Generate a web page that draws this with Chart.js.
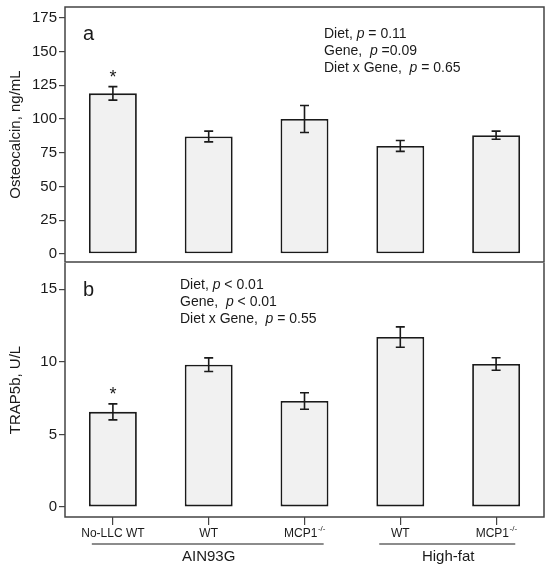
<!DOCTYPE html>
<html>
<head>
<meta charset="utf-8">
<script src="https://cdn.jsdelivr.net/npm/chart.js@4"></script>
<style>
    body { margin: 0; background: #fff; }
    #wrap { position: relative; width: 550px; height: 567px; }
    #boxA { position: absolute; left: 0; top: 0; }
    #boxB { position: absolute; left: 0; top: 262px; }
    canvas { display: block; }
</style>
</head>
<body>
<div id="wrap">
    <div id="boxA"><canvas id="chartA" width="550" height="263"></canvas></div>
    <div id="boxB"><canvas id="chartB" width="550" height="305"></canvas></div>
</div>
<script>
// categories (x), superscripts go after the base name
var categories = ['No-LLC WT', 'WT', 'MCP1', 'WT', 'MCP1'];
var categorySup = ['', '', '-/-', '', '-/-'];

// panel a - osteocalcin ng/mL
var osteoMeans = [119, 87, 100, 80, 88];
var osteoErr = [5, 4, 10, 4, 3];
var osteoStar = [true, false, false, false, false];
var osteoTicks = [0, 25, 50, 75, 100, 125, 150, 175];

// panel b - TRAP5b U/L
var trapMeans = [6.55, 9.8, 7.3, 11.7, 9.85];
var trapErr = [0.55, 0.47, 0.57, 0.7, 0.43];
var trapStar = [true, false, false, false, false];
var trapTicks = [0, 5, 10, 15];

// diet groups under the x axis
var groupLabels = ['AIN93G', 'High-fat'];
var groupFrom = [0, 3];
var groupTo = [2, 4];

var statsA = [
    [['Diet, ', false], ['p', true], [' = 0.11', false]],
    [['Gene,  ', false], ['p', true], [' =0.09', false]],
    [['Diet x Gene,  ', false], ['p', true], [' = 0.65', false]]
];
var statsB = [
    [['Diet, ', false], ['p', true], [' < 0.01', false]],
    [['Gene,  ', false], ['p', true], [' < 0.01', false]],
    [['Diet x Gene,  ', false], ['p', true], [' = 0.55', false]]
];

var FONT = "'Liberation Sans', Arial, sans-serif";
var INK = '#1a1a1a';

function drawRich(ctx, x, y, parts, size) {
    ctx.textBaseline = 'middle';
    ctx.textAlign = 'left';
    for (var i = 0; i < parts.length; i++) {
        ctx.font = (parts[i][1] ? 'italic ' : '') + size + 'px ' + FONT;
        ctx.fillText(parts[i][0], x, y);
        x += ctx.measureText(parts[i][0]).width;
    }
}

function panelPlugin(means, errs, stars, letter, letterY, stats, statsX, statsY, isBottom) {
    return {
        id: 'panel' + letter,
        afterDatasetsDraw: function (chart) {
            var ctx = chart.ctx;
            var xs = chart.scales.x;
            var ys = chart.scales.y;
            var area = chart.chartArea;
            ctx.save();

            // error bars
            var cap = 4.5;
            ctx.strokeStyle = INK;
            ctx.lineWidth = 1.6;
            for (var i = 0; i < means.length; i++) {
                var cx = xs.getPixelForValue(i);
                var top = ys.getPixelForValue(means[i] + errs[i]);
                var bot = ys.getPixelForValue(means[i] - errs[i]);
                ctx.beginPath();
                ctx.moveTo(cx, top); ctx.lineTo(cx, bot);
                ctx.moveTo(cx - cap, top); ctx.lineTo(cx + cap, top);
                ctx.moveTo(cx - cap, bot); ctx.lineTo(cx + cap, bot);
                ctx.stroke();
                if (stars[i]) {
                    ctx.fillStyle = INK;
                    ctx.font = '18px ' + FONT;
                    ctx.textAlign = 'center';
                    ctx.textBaseline = 'middle';
                    ctx.fillText('*', cx, top - 9);
                }
            }

            // frame
            ctx.strokeStyle = '#444';
            ctx.lineWidth = 1.5;
            ctx.beginPath();
            if (isBottom) {
                ctx.moveTo(area.left, area.top);
                ctx.lineTo(area.left, area.bottom);
                ctx.lineTo(area.right, area.bottom);
                ctx.lineTo(area.right, area.top);
            } else {
                ctx.rect(area.left, area.top, area.right - area.left, area.bottom - area.top);
            }
            ctx.stroke();

            // panel letter
            ctx.fillStyle = INK;
            ctx.font = '20px ' + FONT;
            ctx.textAlign = 'left';
            ctx.textBaseline = 'middle';
            ctx.fillText(letter, area.left + 18, letterY);

            // stats text
            for (var k = 0; k < stats.length; k++) {
                drawRich(ctx, statsX, statsY + k * 17, stats[k], 14);
            }
            ctx.restore();
        }
    };
}

var xLabelsPlugin = {
    id: 'xlabels',
    afterDraw: function (chart) {
        var ctx = chart.ctx;
        var xs = chart.scales.x;
        var base = chart.chartArea.bottom;
        var w = xs.getPixelForValue(1) - xs.getPixelForValue(0);
        ctx.save();
        ctx.fillStyle = INK;
        ctx.textBaseline = 'middle';
        for (var i = 0; i < categories.length; i++) {
            ctx.font = '12px ' + FONT;
            var mainW = ctx.measureText(categories[i]).width;
            ctx.font = '8px ' + FONT;
            var supW = categorySup[i] ? ctx.measureText(categorySup[i]).width : 0;
            var x0 = xs.getPixelForValue(i) - (mainW + supW) / 2;
            ctx.textAlign = 'left';
            ctx.font = '12px ' + FONT;
            ctx.fillText(categories[i], x0, base + 17);
            if (categorySup[i]) {
                ctx.font = '8px ' + FONT;
                ctx.fillText(categorySup[i], x0 + mainW + 0.5, base + 12);
            }
        }
        // diet groups
        ctx.strokeStyle = INK;
        ctx.lineWidth = 1.2;
        for (var g = 0; g < groupLabels.length; g++) {
            var left = xs.getPixelForValue(groupFrom[g]) - 0.22 * w;
            var right = xs.getPixelForValue(groupTo[g]) + 0.2 * w;
            ctx.beginPath();
            ctx.moveTo(left, base + 27);
            ctx.lineTo(right, base + 27);
            ctx.stroke();
            var mid = (xs.getPixelForValue(groupFrom[g]) + xs.getPixelForValue(groupTo[g])) / 2;
            ctx.font = '15px ' + FONT;
            ctx.textAlign = 'center';
            ctx.fillText(groupLabels[g], mid, base + 40);
        }
        ctx.restore();
    }
};

function yAxis(min, max, keep, title) {
    return {
        min: min,
        max: max,
        afterBuildTicks: function (scale) {
            scale.ticks = keep.map(function (v) { return { value: v }; });
        },
        afterFit: function (scale) {
            scale.width = 65;
            // tick labels sit inside the range, no extra room needed
            scale.paddingTop = 0;
            scale.paddingBottom = 0;
        },
        border: { display: false },
        grid: { drawOnChartArea: false, tickLength: 6, color: '#444', lineWidth: 1.2 },
        ticks: { color: INK, padding: 2, font: { family: FONT, size: 15 } },
        title: { display: true, text: title, color: INK, padding: { top: 7, bottom: 0 }, font: { family: FONT, size: 15 } }
    };
}

function barSet(values) {
    return {
        data: values,
        backgroundColor: '#f1f1f1',
        borderColor: INK,
        borderWidth: 1.8,
        borderSkipped: false,
        categoryPercentage: 1,
        barPercentage: 0.5
    };
}

Chart.defaults.font.family = FONT;

new Chart(document.getElementById('chartA'), {
    type: 'bar',
    data: { labels: categories, datasets: [barSet(osteoMeans)] },
    options: {
        responsive: false,
        animation: false,
        layout: { padding: { left: 0, right: 6, top: 7, bottom: 1 } },
        plugins: { legend: { display: false }, tooltip: { enabled: false } },
        scales: {
            x: { display: false },
            y: yAxis(-6, 183, osteoTicks, 'Osteocalcin, ng/mL')
        }
    },
    plugins: [panelPlugin(osteoMeans, osteoErr, osteoStar, 'a', 34, statsA, 324, 34, false)]
});

new Chart(document.getElementById('chartB'), {
    type: 'bar',
    data: { labels: categories, datasets: [barSet(trapMeans)] },
    options: {
        responsive: false,
        animation: false,
        layout: { padding: { left: 0, right: 6, top: 1, bottom: 0 } },
        plugins: { legend: { display: false }, tooltip: { enabled: false } },
        scales: {
            x: {
                afterFit: function (scale) { scale.height = 50; },
                border: { display: false },
                grid: { drawOnChartArea: false, offset: false, tickLength: 8, color: '#444', lineWidth: 1.2 },
                ticks: { display: false }
            },
            y: yAxis(-0.69, 16.8, trapTicks, 'TRAP5b, U/L')
        }
    },
    plugins: [panelPlugin(trapMeans, trapErr, trapStar, 'b', 28, statsB, 180, 23, true), xLabelsPlugin]
});
</script>
</body>
</html>
